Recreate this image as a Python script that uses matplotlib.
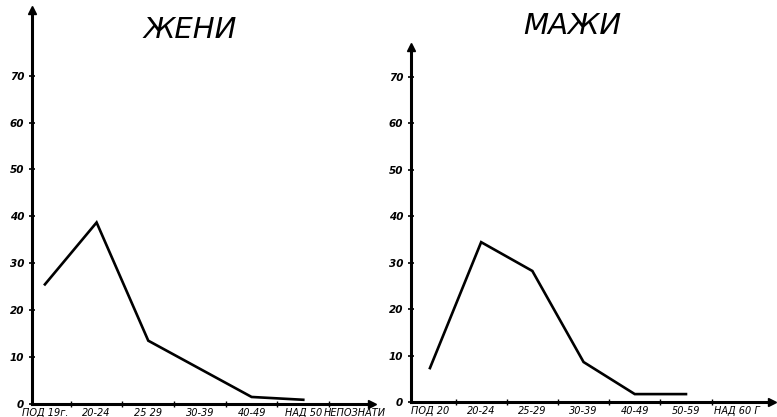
import matplotlib
matplotlib.use("Agg")
import matplotlib.pyplot as plt
from matplotlib.ticker import FixedLocator

plt.rcParams['font.family'] = ['DejaVu Sans']

# Women
women_categories = ["ПОД 19г.", "20-24", "25 29", "30-39", "40-49", "НАД 50", "НЕПОЗНАТИ"]
women_values = [25.5, 38.7, 13.5, 7.5, 1.5, 0.9]
# Men
men_categories = ["ПОД 20", "20-24", "25-29", "30-39", "40-49", "50-59", "НАД 60 Г"]
men_values = [7.3, 34.4, 28.2, 8.6, 1.7, 1.7]

y_ticks = [0, 10, 20, 30, 40, 50, 60, 70]

W, H = 777, 417
fig = plt.figure(figsize=(W / 100, H / 100), dpi=100)
fig.patch.set_facecolor("white")


def make_panel(px_left, px_right, px_zero, px_top, xlim, ylim_top, cats, vals, title, title_xy):
    ax = fig.add_axes([px_left / W, 1 - px_zero / H, (px_right - px_left) / W, (px_zero - px_top) / H])
    ax.set_xlim(*xlim)
    ax.set_ylim(0, ylim_top)
    ax.set_facecolor("none")
    for s in ["top", "right"]:
        ax.spines[s].set_visible(False)
    for s in ["left", "bottom"]:
        ax.spines[s].set_linewidth(2.2)
        ax.spines[s].set_color("black")
    ax.plot(range(len(vals)), vals, color="black", lw=1.9, solid_joinstyle="miter", clip_on=False)
    # arrows
    ax.plot(1, 0, ">", color="black", ms=6, transform=ax.transAxes, clip_on=False)
    ax.plot(0, 1, "^", color="black", ms=6, transform=ax.transAxes, clip_on=False)
    ax.set_yticks(y_ticks)
    ax.set_yticklabels([str(t) for t in y_ticks], fontsize=7.5, fontstyle="italic", fontweight="bold")
    ax.tick_params(axis="y", direction="inout", length=5, width=1.2, pad=3)
    ax.set_xticks(range(len(cats)))
    ax.set_xticklabels(cats, fontsize=7, fontstyle="italic")
    ax.tick_params(axis="x", which="major", length=0, pad=3)
    ax.xaxis.set_minor_locator(FixedLocator([i + 0.5 for i in range(len(cats) - 1)]))
    ax.tick_params(axis="x", which="minor", direction="inout", length=5, width=1.0)
    fig.text(title_xy[0] / W, 1 - title_xy[1] / H, title, fontsize=21, fontstyle="italic",
             ha="center", va="center", fontweight="light")
    return ax


make_panel(32, 372, 404, 10, (-0.25, 6.33), 84, women_categories, women_values, "ЖЕНИ", (190, 30))
make_panel(411, 772, 402, 47, (-0.37, 6.68), 76.4, men_categories, men_values, "МАЖИ", (572, 26))

fig.savefig("out.png", dpi=100, facecolor="white")
